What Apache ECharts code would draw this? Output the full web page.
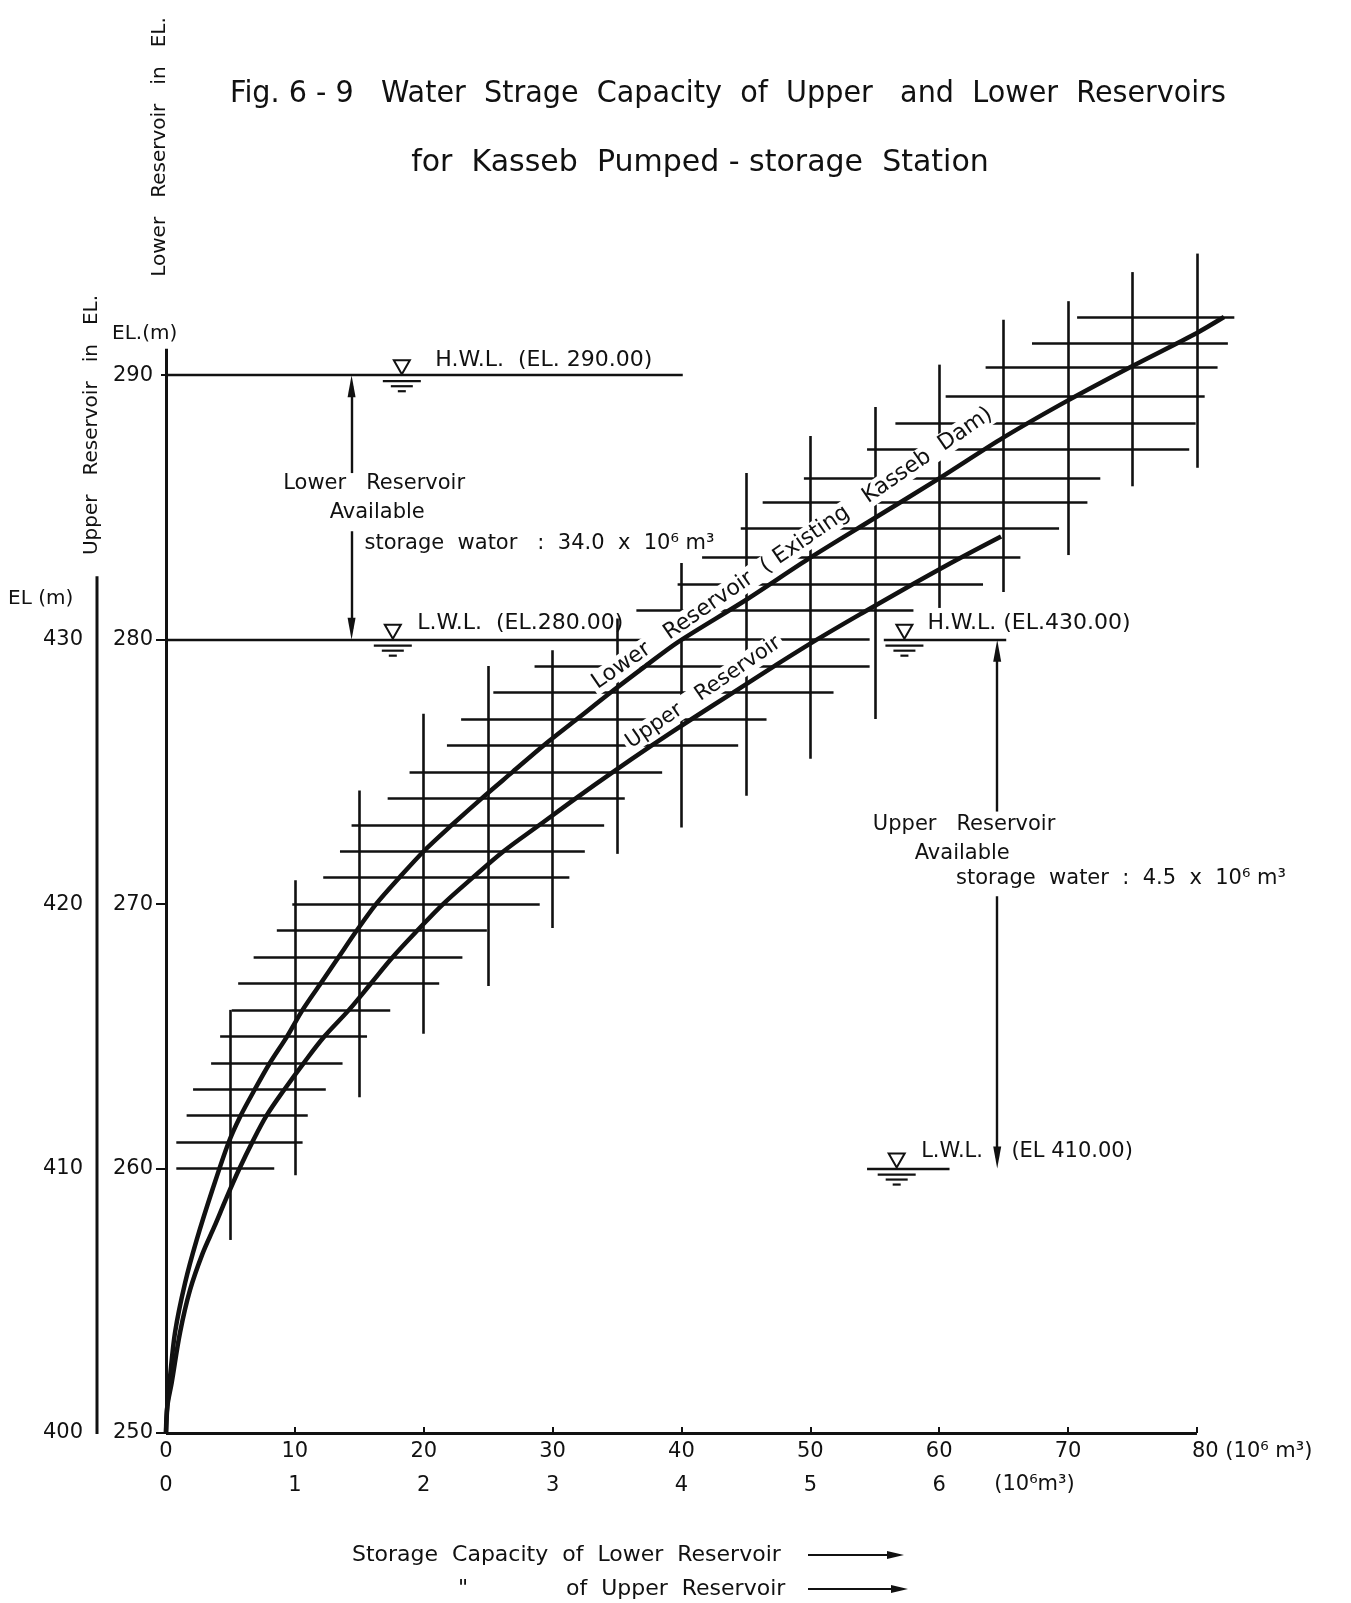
<!DOCTYPE html>
<html><head><meta charset="utf-8">
<script src="https://cdn.jsdelivr.net/npm/echarts@6/dist/echarts.min.js"></script>
<style>html,body{margin:0;padding:0;background:#fff}#c{width:1351px;height:1603px}</style>
</head><body><div id="c"></div>
<script>
// ---- Lower reservoir (Existing Kasseb Dam): capacity (10^6 m3) vs elevation EL (m)
const lowerCap = [0, 0.1, 0.31, 0.7, 1.47, 2.38, 3.67, 4.83, 5.74, 6.9, 8.07, 9.4, 10.6, 12.0, 13.4, 14.8, 16.3, 18.1, 20.0, 22.2, 24.5, 26.9, 29.3, 31.9, 34.5, 37.2, 39.7, 45, 50, 55, 60, 65, 70, 75, 80, 82.1];
const lowerEL  = [250, 251, 252.1, 253.8, 255.65, 257.3, 259.3, 260.95, 261.95, 263, 264, 265, 266, 267, 268, 269, 270, 271, 272, 273, 274, 275, 276, 277, 278, 279, 279.9, 281.5, 283.1, 284.6, 286.1, 287.65, 289.05, 290.35, 291.6, 292.2];
// ---- Upper reservoir: capacity (10^6 m3) vs elevation EL (m)
const upperCap = [0, 0.01, 0.044, 0.109, 0.186, 0.285, 0.375, 0.47, 0.57, 0.67, 0.78, 0.92, 1.07, 1.23, 1.42, 1.59, 1.76, 1.95, 2.15, 2.38, 2.62, 2.90, 3.18, 3.47, 3.77, 4.08, 4.40, 4.72, 5.05, 5.40, 5.76, 6.13, 6.48];
const upperEL  = [400, 401, 401.9, 403.8, 405.4, 406.8, 407.8, 408.9, 410, 411, 412, 413, 414, 415, 416, 417, 418, 419, 420, 421, 422, 423, 424, 425, 426, 427, 428, 429, 430, 431, 432, 433, 433.9];
// ---- Hatching (lower-reservoir scale): horizontal strokes
const hatchRowEL   = [260,261,262,263,264,265,266,267,268,269,270,271,272,273,274,275,276,277,278,279,280,281.1,282.1,283.1,284.2,285.2,286.1,287.2,288.2,289.2,290.3,291.2,292.2];
const hatchRowFrom = [0.8,0.8,1.6,2.1,3.5,4.2,5.1,5.6,6.8,8.6,9.8,12.2,13.5,14.4,17.2,18.9,21.8,22.9,25.4,28.6,39.7,36.5,39.7,41.6,44.6,46.3,49.5,54.4,56.6,60.5,63.6,67.2,70.7];
const hatchRowTo   = [8.4,10.6,11.0,12.4,13.7,15.6,17.4,21.2,23.0,24.9,29.0,31.3,32.5,34.0,35.6,38.5,44.4,46.6,51.8,54.6,54.6,58.0,63.4,66.3,69.3,71.5,72.5,79.4,79.9,80.6,81.6,82.4,82.9];
// ---- Hatching: vertical strokes
const hatchColCap  = [5,10,15,20,25,30,35,40,45,50,55,60,65,70,75,80];
const hatchColFrom = [257.3,259.75,262.7,265.1,266.9,269.1,271.9,272.9,274.1,275.5,277.0,281.2,281.8,283.2,285.8,286.5];
const hatchColTo   = [266.0,270.9,274.3,277.2,279.0,279.6,280.8,282.9,286.3,287.7,288.8,290.4,292.1,292.8,293.9,294.6];
// ---- Ticks
const xTicksLower = [0,10,20,30,40,50,60,70,80];
const xTicksUpper = [0,1,2,3,4,5,6];
const yTicksLower = [250,260,270,280,290];
const yTicksUpper = [400,410,420,430];
// ---- Water levels
const lowerHWL = 290, lowerLWL = 280, upperHWL = 430, upperLWL = 410;
const lowerStorage = '34.0', upperStorage = '4.5';

const INK = '#111';
const F = '"DejaVu Sans", Lato, sans-serif';
const chart = echarts.init(document.getElementById('c'), null, {width:1351, height:1603});

const hatchData = hatchRowEL.map((e,i)=>({coords:[[hatchRowFrom[i], e],[hatchRowTo[i], e]]}))
  .concat(hatchColCap.map((c,i)=>({coords:[[c, hatchColFrom[i]],[c, hatchColTo[i]]]})));

const lab = {color:INK, fontFamily:F, fontSize:21};
const option = {
  animation:false,
  backgroundColor:'#fff',
  grid:{left:166, right:102.5, top:243, bottom:170, containLabel:false},
  xAxis:[
    {type:'value', min:0, max:84, interval:10, position:'bottom',
     axisLine:{show:false},
     axisTick:{show:true, inside:true, length:6, customValues:xTicksLower, lineStyle:{color:INK, width:2}},
     axisLabel:Object.assign({margin:8, customValues:xTicksLower,
       formatter:v => (xTicksLower.includes(v) && v !== 80) ? String(v) : ''}, lab),
     splitLine:{show:false}},
    {type:'value', min:0, max:8.4, interval:1, position:'bottom',
     axisLine:{show:false}, axisTick:{show:false},
     axisLabel:Object.assign({margin:42, customValues:xTicksUpper,
       formatter:v => xTicksUpper.includes(v) ? String(v) : ''}, lab),
     splitLine:{show:false}}
  ],
  yAxis:[
    {type:'value', min:250, max:295, interval:10, position:'left',
     axisLine:{show:false},
     axisTick:{show:true, length:5, customValues:yTicksLower, lineStyle:{color:INK, width:2}},
     axisLabel:Object.assign({margin:13, customValues:yTicksLower,
       formatter:v => yTicksLower.includes(v) ? String(v) : ''}, lab),
     splitLine:{show:false}},
    {type:'value', min:400, max:445, interval:10, position:'left', offset:69,
     axisLine:{show:false},
     axisTick:{show:true, length:10, customValues:yTicksUpper, lineStyle:{color:INK, width:2}},
     axisLabel:Object.assign({margin:14, customValues:yTicksUpper,
       formatter:v => yTicksUpper.includes(v) ? String(v) : ''}, lab),
     splitLine:{show:false}}
  ],
  series:[
    {name:'hatch', type:'lines', coordinateSystem:'cartesian2d', xAxisIndex:0, yAxisIndex:0,
     clip:false, silent:true, z:3, lineStyle:{color:INK, width:2.6, opacity:1, curveness:0},
     data:hatchData},
    {name:'lower annotations', type:'lines', coordinateSystem:'cartesian2d', xAxisIndex:0, yAxisIndex:0,
     clip:false, silent:true, z:4, lineStyle:{color:INK, width:2.4, opacity:1},
     data:[
       {coords:[[0,250],[0,291]], lineStyle:{width:3}},
       {coords:[[0,250],[80,250]], lineStyle:{width:3}},
       {coords:[[0,lowerHWL],[40.1,lowerHWL]]},
       {coords:[[0,lowerLWL],[37.8,lowerLWL]]},
       {coords:[[14.4,286.3],[14.4,lowerHWL-0.4]]},
       {coords:[[14.4,284.1],[14.4,lowerLWL+0.4]]}
     ]},
    {name:'upper annotations', type:'lines', coordinateSystem:'cartesian2d', xAxisIndex:1, yAxisIndex:1,
     clip:false, silent:true, z:4, lineStyle:{color:INK, width:2.4, opacity:1},
     data:[
       {coords:[[5.57,upperHWL],[6.52,upperHWL]]},
       {coords:[[5.44,upperLWL],[6.08,upperLWL]]},
       {coords:[[6.45,423.5],[6.45,upperHWL-0.4]]},
       {coords:[[6.45,420.3],[6.45,upperLWL+0.4]]}
     ]},
    {name:'Lower Reservoir (Existing Kasseb Dam)', type:'line', xAxisIndex:0, yAxisIndex:0,
     data:lowerCap.map((x,i)=>[x, lowerEL[i]]), smooth:0.3, symbol:'none', showSymbol:false,
     clip:false, z:60, lineStyle:{color:INK, width:4.5}},
    {name:'Upper Reservoir', type:'line', xAxisIndex:1, yAxisIndex:1,
     data:upperCap.map((x,i)=>[x, upperEL[i]]), smooth:0.35, symbol:'none', showSymbol:false,
     clip:false, z:60, lineStyle:{color:INK, width:4.5}}
  ]
};
chart.setOption(option);

const P0 = (x,y) => chart.convertToPixel({xAxisIndex:0, yAxisIndex:0}, [x,y]);
const P1 = (x,y) => chart.convertToPixel({xAxisIndex:1, yAxisIndex:1}, [x,y]);
const g = [];
function txt(x, y, s, o) {
  o = o || {};
  const st = {text:s, fill:INK, fontFamily:o.family || F, fontSize:o.size || 21,
    align:o.align || 'left', verticalAlign:'middle'};
  if (o.bg) { st.backgroundColor = '#fff'; st.padding = [0,3]; st.lineHeight = o.size ? o.size+1 : 22; }
  g.push({type:'text', x:x, y:y, z:50, rotation:o.rot || 0, scaleX:o.sx || 1, style:st});
}
function seg(x1,y1,x2,y2,w) {
  g.push({type:'line', z:50, shape:{x1:x1,y1:y1,x2:x2,y2:y2}, style:{stroke:INK, lineWidth:w||2.4}});
}
function head(p, dir) {
  const x = p[0], y = p[1]; let pts;
  if (dir === 'up') pts = [[x,y],[x-4,y+22],[x+4,y+22]];
  else if (dir === 'down') pts = [[x,y],[x-4,y-22],[x+4,y-22]];
  else pts = [[x,y],[x-17,y-4],[x-17,y+4]];
  g.push({type:'polygon', z:51, shape:{points:pts}, style:{fill:INK}});
}
function wl(p) {
  const x = p[0], y = p[1];
  g.push({type:'polygon', z:51, shape:{points:[[x-8,y-15],[x+8,y-15],[x,y-1]]},
    style:{fill:'#fff', stroke:INK, lineWidth:2}});
  seg(x-19, y+6, x+19, y+6, 2.2);
  seg(x-11, y+11, x+11, y+11, 2.2);
  seg(x-4, y+16, x+4, y+16, 2.2);
}

// title
txt(728, 94, 'Fig. 6 - 9   Water  Strage  Capacity  of  Upper   and  Lower  Reservoirs', {align:'center', size:30, sx:0.955});
txt(700, 163, 'for  Kasseb  Pumped - storage  Station', {align:'center', size:30});

// axis titles
txt(160, 147, 'Lower   Reservoir   in   EL.', {align:'center', size:20, rot:Math.PI/2});
txt(92, 425, 'Upper   Reservoir   in   EL.', {align:'center', size:20, rot:Math.PI/2});
txt(112, 334, 'EL.(m)', {size:20});
txt(8, 599, 'EL (m)', {size:20});
// upper y axis line
const ua0 = P1(0,400), ua1 = P1(0,432.4);
seg(ua0[0]-69, ua0[1]+1, ua1[0]-69, ua1[1], 3);
// x unit labels
const x80 = P0(80,250);
txt(x80[0]-5, x80[1]+19, '80 (10⁶ m³)', {size:21});
const x6 = P1(6,400);
txt(x6[0]+55, x6[1]+52, '(10⁶m³)', {size:21});

// lower reservoir water levels
wl(P0(18.3, lowerHWL));
wl(P0(17.6, lowerLWL));
let p = P0(20.9, lowerHWL); txt(p[0], p[1]-15, 'H.W.L.  (EL. 290.00)', {size:22});
p = P0(19.5, lowerLWL); txt(p[0], p[1]-16, 'L.W.L.  (EL.280.00)', {size:22});
head(P0(14.4, lowerHWL), 'up');
head(P0(14.4, lowerLWL), 'down');
p = P0(9.1, 285.9); txt(p[0], p[1], 'Lower   Reservoir', {size:21});
p = P0(12.7, 284.8); txt(p[0], p[1], 'Available', {size:21});
p = P0(15.4, 283.65); txt(p[0], p[1], 'storage  wator   :  ' + lowerStorage + '  x  10⁶ m³', {size:21});

// upper reservoir water levels
wl(P1(5.73, upperHWL));
wl(P1(5.67, upperLWL));
p = P1(5.91, upperHWL); txt(p[0], p[1]-16, 'H.W.L. (EL.430.00)', {size:22});
p = P1(5.86, upperLWL); txt(p[0], p[1]-17, 'L.W.L.', {size:21});
p = P1(6.56, upperLWL); txt(p[0], p[1]-17, '(EL 410.00)', {size:21});
head(P1(6.45, upperHWL), 'up');
head(P1(6.45, upperLWL), 'down');
p = P1(5.485, 423.0); txt(p[0], p[1], 'Upper   Reservoir', {size:21});
p = P1(5.81, 421.9); txt(p[0], p[1], 'Available', {size:21});
p = P1(6.13, 420.98); txt(p[0], p[1], 'storage  water  :  ' + upperStorage + '  x  10⁶ m³', {size:21});

// curve labels
p = P0(48.6, 283.45); txt(p[0], p[1], 'Lower   Reservoir  ( Existing   Kasseb  Dam)', {align:'center', size:22, rot:34.5*Math.PI/180, bg:true});
p = P1(4.17, 428.0); txt(p[0], p[1], 'Upper   Reservoir', {align:'center', size:21, rot:34.3*Math.PI/180, bg:true});

// bottom legend
txt(352, 1555, 'Storage  Capacity  of  Lower  Reservoir', {size:22});
txt(458, 1589, '"', {size:22});
txt(566, 1589, 'of  Upper  Reservoir', {size:22});
seg(808, 1555, 892, 1555, 2.2); head([904, 1555], 'right');
seg(808, 1589, 896, 1589, 2.2); head([908, 1589], 'right');

chart.setOption({graphic:{elements:g}});
</script>
</body></html>
